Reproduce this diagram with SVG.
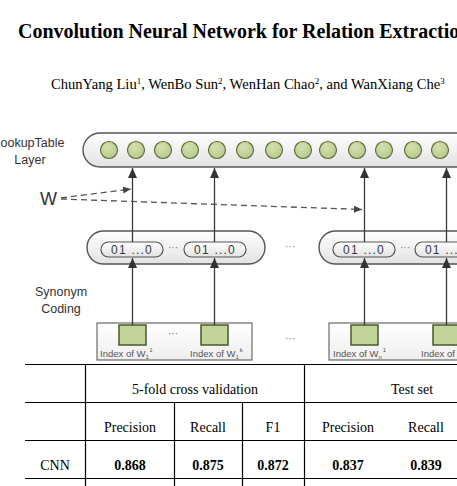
<svg xmlns="http://www.w3.org/2000/svg" width="457" height="486" viewBox="0 0 457 486">
<defs>
<style>
.serif{font-family:"Liberation Serif","Times New Roman",serif;fill:#000}
.sans{font-family:"Liberation Sans",Arial,sans-serif;fill:#333}
.conn{stroke:#3a3a3a;stroke-width:1.3;fill:none}
.dash{stroke:#555;stroke-width:1.3;stroke-dasharray:6 4;fill:none}
.dot{fill:url(#dotGrad);stroke:#5d6b3c;stroke-width:1.2}
.sq{fill:#c3d49a;stroke:#4a5a28;stroke-width:1.5}
.cap{fill:url(#capGrad);stroke:#555;stroke-width:1.4}
.inner{fill:url(#capGrad);stroke:#555;stroke-width:1.2}
.box{fill:url(#boxGrad);stroke:#6a6a6a;stroke-width:1.2}
.grid{stroke:#000;stroke-width:1.2}
.ell{font-family:"Liberation Sans",Arial,sans-serif;fill:#777;font-size:10px}
.code{font-family:"Liberation Sans",Arial,sans-serif;fill:#3a3a3a;font-size:12px;letter-spacing:1.2px}
.idx{font-family:"Liberation Sans",Arial,sans-serif;fill:#555;font-size:9.5px}
</style>
<linearGradient id="capGrad" x1="0" y1="0" x2="0" y2="1"><stop offset="0" stop-color="#ffffff"/><stop offset="1" stop-color="#e2e2e2"/></linearGradient>
<linearGradient id="boxGrad" x1="0" y1="0" x2="0" y2="1"><stop offset="0" stop-color="#ffffff"/><stop offset="1" stop-color="#eeeeee"/></linearGradient>
<radialGradient id="dotGrad" cx="0.4" cy="0.35" r="0.7"><stop offset="0" stop-color="#d4e0ad"/><stop offset="1" stop-color="#b7c98b"/></radialGradient>
<marker id="arr" markerUnits="userSpaceOnUse" markerWidth="11" markerHeight="10" refX="10" refY="4.5" orient="auto"><path d="M0,0 L10,4.5 L0,9 Z" fill="#333"/></marker>
<marker id="arrS" markerUnits="userSpaceOnUse" markerWidth="9" markerHeight="8" refX="8" refY="3.5" orient="auto"><path d="M0,0 L8,3.5 L0,7 Z" fill="#444"/></marker>
</defs>
<rect width="457" height="486" fill="#fff"/>

<g id="title">
<text class="serif" x="18" y="38" font-size="20" font-weight="bold">Convolution Neural Network for Relation Extractio</text>
<text class="serif" x="51" y="89" font-size="14.6">ChunYang Liu<tspan font-size="9" dy="-5.5">1</tspan><tspan dy="5.5">, WenBo Sun</tspan><tspan font-size="9" dy="-5.5">2</tspan><tspan dy="5.5">, WenHan Chao</tspan><tspan font-size="9" dy="-5.5">2</tspan><tspan dy="5.5">, and WanXiang Che</tspan><tspan font-size="9" dy="-5.5">3</tspan></text>
</g>

<g id="lookup-layer">
<rect class="cap" x="83" y="133" width="400" height="34" rx="17"/>
<circle class="dot" cx="109" cy="150" r="8.5"/>
<circle class="dot" cx="136" cy="150" r="8.5"/>
<circle class="dot" cx="163" cy="150" r="8.5"/>
<circle class="dot" cx="190" cy="150" r="8.5"/>
<circle class="dot" cx="217" cy="150" r="8.5"/>
<circle class="dot" cx="245" cy="150" r="8.5"/>
<circle class="dot" cx="274" cy="150" r="8.5"/>
<circle class="dot" cx="303" cy="150" r="8.5"/>
<circle class="dot" cx="328" cy="150" r="8.5"/>
<circle class="dot" cx="357" cy="150" r="8.5"/>
<circle class="dot" cx="384" cy="150" r="8.5"/>
<circle class="dot" cx="413" cy="150" r="8.5"/>
<circle class="dot" cx="440" cy="150" r="8.5"/>
</g>
<g id="lookup-label">
<text class="sans" x="0.5" y="147" font-size="12.5">ookupTable</text>
<text class="sans" x="30" y="164" font-size="12.5" text-anchor="middle">Layer</text>
</g>

<g id="w-label"><text class="sans" x="40" y="205" font-size="18">W</text></g>

<g id="synonym-label">
<text class="sans" x="61" y="296" font-size="12.5" text-anchor="middle">Synonym</text>
<text class="sans" x="61" y="313" font-size="12.5" text-anchor="middle">Coding</text>
</g>

<g id="synonym-group-1">
<rect class="cap" x="87" y="231" width="178" height="33" rx="16.5"/>
<rect class="inner" x="101" y="242" width="62" height="15" rx="7.5"/>
<text class="code" x="132" y="254" text-anchor="middle">01 ...0</text>
<text class="ell" x="173" y="251" text-anchor="middle">···</text>
<rect class="inner" x="184" y="242" width="62" height="15" rx="7.5"/>
<text class="code" x="215" y="254" text-anchor="middle">01 ...0</text>
</g>
<g id="synonym-group-2">
<rect class="cap" x="319" y="231" width="200" height="33" rx="16.5"/>
<rect class="inner" x="333" y="242" width="62" height="15" rx="7.5"/>
<text class="code" x="364" y="254" text-anchor="middle">01 ...0</text>
<text class="ell" x="405" y="251" text-anchor="middle">···</text>
<rect class="inner" x="415" y="242" width="62" height="15" rx="7.5"/>
<text class="code" x="425" y="254">01 ...</text>
</g>
<g id="ellipsis-mid"><text class="ell" x="290" y="250" text-anchor="middle">···</text></g>

<g id="index-box-1">
<rect class="box" x="97" y="323" width="155" height="37"/>
<rect class="sq" x="119" y="325" width="27" height="20"/>
<rect class="sq" x="201" y="325" width="27" height="20"/>
<text class="ell" x="173" y="337" text-anchor="middle">···</text>
<text class="idx" x="100" y="357">Index of W<tspan font-size="6" dy="2">1</tspan><tspan font-size="6" dy="-7" dx="1">1</tspan></text>
<text class="idx" x="190" y="357">Index of W<tspan font-size="6" dy="2">1</tspan><tspan font-size="6" dy="-7" dx="1">k</tspan></text>
</g>
<g id="index-box-2">
<rect class="box" x="329" y="323" width="200" height="37"/>
<rect class="sq" x="351" y="325" width="27" height="20"/>
<rect class="sq" x="433" y="325" width="27" height="20"/>
<text class="idx" x="333" y="357">Index of W<tspan font-size="6" dy="2">n</tspan><tspan font-size="6" dy="-7" dx="1">1</tspan></text>
<text class="idx" x="421" y="357">Index of</text>
</g>
<g id="ellipsis-low"><text class="ell" x="290" y="342" text-anchor="middle">···</text></g>

<g id="connectors">
<line class="conn" x1="132.5" y1="325" x2="132.5" y2="258" marker-end="url(#arr)"/>
<line class="conn" x1="132.5" y1="242" x2="132.5" y2="168" marker-end="url(#arr)"/>
<line class="conn" x1="214.5" y1="325" x2="214.5" y2="258" marker-end="url(#arr)"/>
<line class="conn" x1="214.5" y1="242" x2="214.5" y2="168" marker-end="url(#arr)"/>
<line class="conn" x1="364.5" y1="325" x2="364.5" y2="258" marker-end="url(#arr)"/>
<line class="conn" x1="364.5" y1="242" x2="364.5" y2="168" marker-end="url(#arr)"/>
<line class="conn" x1="446.5" y1="325" x2="446.5" y2="258" marker-end="url(#arr)"/>
<line class="conn" x1="446.5" y1="242" x2="446.5" y2="168" marker-end="url(#arr)"/>
<line class="dash" x1="61" y1="198" x2="131" y2="189" marker-end="url(#arrS)"/>
<line class="dash" x1="61" y1="199" x2="362" y2="209.5" marker-end="url(#arrS)"/>
</g>

<g id="table">
<g class="grid">
<line x1="25" y1="364.5" x2="457" y2="364.5"/>
<line x1="25" y1="402.5" x2="457" y2="402.5"/>
<line x1="25" y1="440.5" x2="457" y2="440.5"/>
<line x1="25" y1="478.5" x2="457" y2="478.5"/>
<line x1="85.5" y1="364" x2="85.5" y2="486"/>
<line x1="304.5" y1="364" x2="304.5" y2="486"/>
<line x1="174.5" y1="402" x2="174.5" y2="486"/>
<line x1="242.5" y1="402" x2="242.5" y2="486"/>
</g>
<g class="serif" font-size="14" text-anchor="middle">
<text x="195" y="394">5-fold cross validation</text>
<text x="412" y="394">Test set</text>
<text x="130" y="432">Precision</text>
<text x="208" y="432">Recall</text>
<text x="273" y="432">F1</text>
<text x="348" y="432">Precision</text>
<text x="426" y="432">Recall</text>
<text x="55" y="470">CNN</text>
<text x="130" y="470" font-weight="bold">0.868</text>
<text x="208" y="470" font-weight="bold">0.875</text>
<text x="273" y="470" font-weight="bold">0.872</text>
<text x="348" y="470" font-weight="bold">0.837</text>
<text x="426" y="470" font-weight="bold">0.839</text>
</g>
</g>
</svg>
